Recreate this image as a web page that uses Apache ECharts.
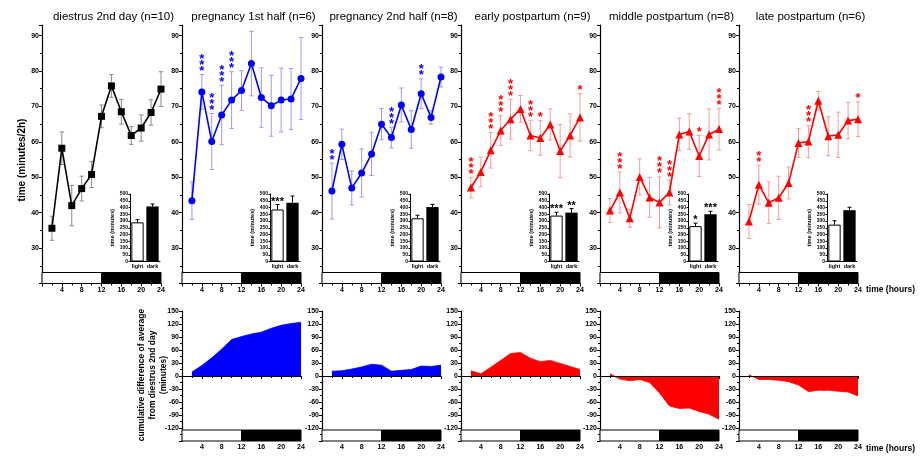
<!DOCTYPE html>
<html>
<head>
<meta charset="utf-8">
<script src="https://cdn.jsdelivr.net/npm/echarts@6/dist/echarts.min.js"></script>
<style>
html,body{margin:0;padding:0;background:#fff}
#chart{width:923px;height:456px}
</style>
</head>
<body>
<div id="chart"></div>
<script>
// ---- data: activity time per 2 h bin (mean, SEM) and significance stars ----
const hours = [2, 4, 6, 8, 10, 12, 14, 16, 18, 20, 22, 24];
const hourTicks = [4, 8, 12, 16, 20, 24];

const diestrusMean = [35.6, 58.2, 42.0, 46.8, 50.8, 67.2, 75.8, 68.5, 61.8, 63.9, 68.3, 74.9];
const diestrusSem  = [3.4, 4.6, 5.7, 3.5, 3.7, 3.2, 3.2, 3.5, 2.5, 3.7, 3.6, 4.9];
const diestrusStars = [0, 0, 0, 0, 0, 0, 0, 0, 0, 0, 0, 0];

const preg1Mean = [43.4, 74.1, 60.1, 67.6, 71.8, 74.5, 82.1, 72.5, 70.2, 71.8, 72.1, 77.9];
const preg1Sem  = [5.3, 4.9, 7.9, 8.4, 8.0, 5.6, 9.1, 8.4, 8.6, 9.0, 8.6, 11.6];
const preg1Stars = [0, 3, 3, 3, 3, 0, 0, 0, 0, 0, 0, 0];

const preg2Mean = [46.1, 59.3, 47.0, 51.2, 56.6, 65.0, 61.2, 70.4, 63.5, 73.6, 66.9, 78.3];
const preg2Sem  = [7.9, 4.3, 4.8, 6.8, 6.1, 4.4, 2.9, 4.8, 5.3, 4.2, 1.9, 2.8];
const preg2Stars = [2, 0, 0, 0, 0, 0, 3, 0, 0, 2, 0, 0];

const earlyMean = [47.1, 51.5, 57.6, 63.2, 66.4, 69.3, 61.8, 61.1, 64.9, 57.4, 61.8, 66.9];
const earlySem  = [2.9, 4.2, 5.0, 4.2, 5.6, 3.8, 4.3, 4.9, 4.4, 7.5, 6.1, 6.7];
const earlyStars = [3, 0, 3, 3, 3, 0, 3, 1, 0, 0, 0, 1];

const middleMean = [40.6, 45.7, 38.4, 50.1, 44.3, 42.9, 45.7, 62.1, 62.9, 56.0, 62.1, 63.6];
const middleSem  = [3.4, 5.8, 2.5, 5.1, 5.6, 7.2, 3.5, 4.6, 5.0, 5.8, 7.2, 5.9];
const middleStars = [0, 3, 0, 0, 0, 3, 3, 0, 0, 1, 0, 3];

const lateMean = [37.5, 47.9, 42.8, 44.2, 48.4, 59.7, 60.1, 71.6, 61.6, 62.0, 66.0, 66.4];
const lateSem  = [4.8, 5.5, 5.9, 6.1, 4.5, 4.1, 4.5, 2.6, 5.5, 6.4, 5.1, 4.9];
const lateStars = [0, 2, 0, 0, 0, 0, 3, 0, 0, 0, 0, 1];

// cumulative difference from diestrus 2nd day (minutes)
const preg1Cum  = [9, 24, 42, 62, 84, 91, 97, 101, 110, 117, 121, 124];
const preg2Cum  = [11, 12, 16, 21, 27, 25, 11, 13, 15, 23, 22, 25];
const earlyCum  = [12, 5, 20, 36, 52, 54, 41, 33, 36, 29, 22, 15];
const middleCum = [5, -7, -11, -8, -15, -39, -69, -75, -74, -82, -88, -100];
const lateCum   = [3, -8, -8, -10, -13, -21, -36, -33, -33, -35, -37, -46];

// light / dark phase totals (minutes), SEM and stars
const phaseNames = ['light', 'dark'];
const diestrusPhase = [290, 408];  const diestrusPhaseSem = [20, 18]; const diestrusPhaseStars = ['', ''];
const preg1Phase    = [385, 435];  const preg1PhaseSem    = [37, 50]; const preg1PhaseStars    = ['***', ''];
const preg2Phase    = [320, 403];  const preg2PhaseSem    = [23, 20]; const preg2PhaseStars    = ['', ''];
const earlyPhase    = [340, 362];  const earlyPhaseSem    = [25, 30]; const earlyPhaseStars    = ['***', '**'];
const middlePhase   = [262, 350];  const middlePhaseSem   = [22, 22]; const middlePhaseStars   = ['*', '***'];
const latePhase     = [273, 380];  const latePhaseSem     = [29, 22]; const latePhaseStars     = ['', ''];

// light (0-12 h) and dark (12-24 h) phase blocks
const ldBlocks = [[0, 12, 0], [12, 24, 1]];

const panelTitles = ['diestrus 2nd day (n=10)', 'pregnancy 1st half (n=6)', 'pregnancy 2nd half (n=8)',
                     'early postpartum (n=9)', 'middle postpartum (n=8)', 'late postpartum (n=6)'];

// ---- layout ----
const panelLefts = [42, 182, 322, 461, 600, 739];
const PANEL_W = 119;
const TOP_Y = 25, TOP_H = 258.5, TOP_MIN = 20, TOP_MAX = 93;
const BOT_Y = 311, BOT_H = 130, BOT_MIN = -150, BOT_MAX = 150;
const INSET_DX = 88, INSET_Y = 194, INSET_W = 30, INSET_H = 67.5;
const LD_H = 11;
const FONT = '"Liberation Sans", Arial, sans-serif';

const panels = [
  {mean: diestrusMean, sem: diestrusSem, stars: diestrusStars, cum: null,
   phase: diestrusPhase, phaseSem: diestrusPhaseSem, phaseStars: diestrusPhaseStars,
   color: '#000000', errColor: '#8a8a8a', symbol: 'rect', symbolSize: 7},
  {mean: preg1Mean, sem: preg1Sem, stars: preg1Stars, cum: preg1Cum,
   phase: preg1Phase, phaseSem: preg1PhaseSem, phaseStars: preg1PhaseStars,
   color: '#0000ff', errColor: '#9a9aff', symbol: 'circle', symbolSize: 7},
  {mean: preg2Mean, sem: preg2Sem, stars: preg2Stars, cum: preg2Cum,
   phase: preg2Phase, phaseSem: preg2PhaseSem, phaseStars: preg2PhaseStars,
   color: '#0000ff', errColor: '#9a9aff', symbol: 'circle', symbolSize: 7},
  {mean: earlyMean, sem: earlySem, stars: earlyStars, cum: earlyCum,
   phase: earlyPhase, phaseSem: earlyPhaseSem, phaseStars: earlyPhaseStars,
   color: '#ff0000', errColor: '#ff9a9a', symbol: 'triangle', symbolSize: 8},
  {mean: middleMean, sem: middleSem, stars: middleStars, cum: middleCum,
   phase: middlePhase, phaseSem: middlePhaseSem, phaseStars: middlePhaseStars,
   color: '#ff0000', errColor: '#ff9a9a', symbol: 'triangle', symbolSize: 8},
  {mean: lateMean, sem: lateSem, stars: lateStars, cum: lateCum,
   phase: latePhase, phaseSem: latePhaseSem, phaseStars: latePhaseStars,
   color: '#ff0000', errColor: '#ff9a9a', symbol: 'triangle', symbolSize: 8}
];

// ---- render helpers ----
function errorBarRender(color, cap, upOnly) {
  return function (params, api) {
    const x = api.value(0), m = api.value(1), s = api.value(2);
    const hi = api.coord([x, m + s]);
    const lo = upOnly ? api.coord([x, m]) : api.coord([x, m - s]);
    const st = {stroke: color, lineWidth: 1};
    const kids = [
      {type: 'line', shape: {x1: hi[0], y1: hi[1], x2: lo[0], y2: lo[1]}, style: st},
      {type: 'line', shape: {x1: hi[0] - cap, y1: hi[1], x2: hi[0] + cap, y2: hi[1]}, style: st}
    ];
    if (!upOnly) kids.push({type: 'line', shape: {x1: lo[0] - cap, y1: lo[1], x2: lo[0] + cap, y2: lo[1]}, style: st});
    return {type: 'group', children: kids};
  };
}

function starStackRender(color) {
  return function (params, api) {
    const n = api.value(2);
    const p = api.coord([api.value(0), api.value(1)]);
    const kids = [];
    for (let i = 0; i < n; i++) {
      kids.push({type: 'text', style: {text: '*', x: p[0], y: p[1] - 3 - i * 6,
        fill: color, font: 'bold 13px ' + FONT, textAlign: 'center', textVerticalAlign: 'middle'}});
    }
    return {type: 'group', children: kids};
  };
}

function ldRender(yBase) {
  return function (params, api) {
    const a = api.coord([api.value(0), yBase]);
    const b = api.coord([api.value(1), yBase]);
    return {type: 'rect', shape: {x: a[0], y: a[1] - LD_H, width: b[0] - a[0], height: LD_H},
      style: {fill: api.value(2) ? '#000' : '#fff', stroke: '#000', lineWidth: 1}};
  };
}

const axisLineBlack = {show: true, lineStyle: {color: '#000', width: 1.2}};
const tickLabel = {color: '#000', fontSize: 7, fontWeight: 'bold', fontFamily: FONT};

const grid = [], xAxis = [], yAxis = [], series = [], title = [];

function hourAxis(gi) {
  return {type: 'value', gridIndex: gi, min: 0, max: 24, interval: 4,
    axisLine: axisLineBlack, splitLine: {show: false},
    axisTick: {show: true, inside: false, length: 3, lineStyle: {color: '#000'}},
    minorTick: {show: true, splitNumber: 2, length: 2, lineStyle: {color: '#000'}},
    axisLabel: Object.assign({margin: 3, formatter: v => (hourTicks.indexOf(v) >= 0 ? String(v) : '')}, tickLabel)};
}

panels.forEach((p, i) => {
  const L = panelLefts[i];
  title.push({text: panelTitles[i], left: L + PANEL_W / 2 + 7, top: 6, textAlign: 'center',
    textStyle: {fontSize: 11.5, fontWeight: 'normal', color: '#000', fontFamily: FONT}});

  // main time course
  const gi = grid.length;
  grid.push({left: L, top: TOP_Y, width: PANEL_W, height: TOP_H});
  xAxis.push(hourAxis(gi));
  yAxis.push({type: 'value', gridIndex: gi, min: TOP_MIN, max: TOP_MAX, interval: 10,
    axisLine: axisLineBlack, splitLine: {show: false},
    axisTick: {show: true, length: 3, lineStyle: {color: '#000'}},
    minorTick: {show: true, splitNumber: 2, length: 2, lineStyle: {color: '#000'}},
    axisLabel: Object.assign({margin: 3, formatter: v => (v >= 30 && v <= 90 && v % 10 === 0 ? String(v) : '')}, tickLabel)});

  series.push({type: 'custom', xAxisIndex: gi, yAxisIndex: gi, renderItem: ldRender(TOP_MIN),
    data: ldBlocks, silent: true, z: 1});
  series.push({type: 'custom', xAxisIndex: gi, yAxisIndex: gi, renderItem: errorBarRender(p.errColor, 2.2, false),
    data: hours.map((h, k) => [h, p.mean[k], p.sem[k]]), silent: true, z: 2});
  series.push({type: 'line', xAxisIndex: gi, yAxisIndex: gi, data: hours.map((h, k) => [h, p.mean[k]]),
    symbol: p.symbol, symbolSize: p.symbolSize, showSymbol: true,
    lineStyle: {color: p.color, width: 1.6}, itemStyle: {color: p.color}, z: 3, animation: false});
  series.push({type: 'custom', xAxisIndex: gi, yAxisIndex: gi, renderItem: starStackRender(p.color),
    data: hours.map((h, k) => [h, p.mean[k] + p.sem[k], p.stars[k]]).filter(d => d[2] > 0), silent: true, z: 4});

  // light/dark inset
  const ii = grid.length;
  grid.push({left: L + INSET_DX, top: INSET_Y, width: INSET_W, height: INSET_H});
  xAxis.push({type: 'category', gridIndex: ii, data: phaseNames, axisLine: {show: true, lineStyle: {color: '#000', width: 1}},
    axisTick: {show: false}, axisLabel: {color: '#000', fontSize: 5.5, fontWeight: 'bold', fontFamily: FONT, margin: 2, interval: 0}});
  yAxis.push({type: 'value', gridIndex: ii, min: 0, max: 500, interval: 50,
    name: 'time (minutes)', nameLocation: 'middle', nameGap: 14, nameRotate: 90,
    nameTextStyle: {color: '#000', fontSize: 5.5, fontWeight: 'bold', fontFamily: FONT},
    axisLine: {show: true, lineStyle: {color: '#000', width: 1}}, splitLine: {show: false},
    axisTick: {show: true, length: 1.5, lineStyle: {color: '#000'}},
    axisLabel: {color: '#000', fontSize: 5, fontWeight: 'bold', fontFamily: FONT, margin: 2}});
  series.push({type: 'bar', xAxisIndex: ii, yAxisIndex: ii, barWidth: '82%', animation: false,
    data: p.phase.map((v, k) => ({value: v, itemStyle: k === 0
      ? {color: '#fff', borderColor: '#000', borderWidth: 1} : {color: '#000'}})), z: 2});
  series.push({type: 'custom', xAxisIndex: ii, yAxisIndex: ii, renderItem: errorBarRender('#000', 2, true),
    data: p.phase.map((v, k) => [k, v, p.phaseSem[k]]), silent: true, z: 3});
  series.push({type: 'custom', xAxisIndex: ii, yAxisIndex: ii, silent: true, z: 4,
    data: p.phase.map((v, k) => [k, v + p.phaseSem[k], k]).filter(d => p.phaseStars[d[2]]),
    renderItem: function (params, api) {
      const pt = api.coord([api.value(0), api.value(1)]);
      return {type: 'text', style: {text: p.phaseStars[api.value(2)], x: pt[0], y: pt[1] - 3,
        fill: '#000', font: 'bold 11px ' + FONT, textAlign: 'center', textVerticalAlign: 'middle'}};
    }});

  // cumulative difference
  if (p.cum) {
    const bi = grid.length;
    grid.push({left: L, top: BOT_Y, width: PANEL_W, height: BOT_H});
    xAxis.push(hourAxis(bi));
    yAxis.push({type: 'value', gridIndex: bi, min: BOT_MIN, max: BOT_MAX, interval: 30,
      axisLine: axisLineBlack, splitLine: {show: false},
      axisTick: {show: true, length: 3, lineStyle: {color: '#000'}},
      minorTick: {show: true, splitNumber: 2, length: 2, lineStyle: {color: '#000'}},
      axisLabel: Object.assign({margin: 3, formatter: v => (v > BOT_MIN ? String(v) : '')}, tickLabel)});
    series.push({type: 'custom', xAxisIndex: bi, yAxisIndex: bi, renderItem: ldRender(BOT_MIN),
      data: ldBlocks, silent: true, z: 1});
    series.push({type: 'line', xAxisIndex: bi, yAxisIndex: bi, data: hours.map((h, k) => [h, p.cum[k]]),
      symbol: 'none', lineStyle: {color: p.color, width: 0.8}, areaStyle: {color: p.color, opacity: 1, origin: 'auto'},
      animation: false, z: 2,
      markLine: {silent: true, symbol: 'none', label: {show: false}, animation: false,
        lineStyle: {color: '#000', width: 1, type: 'solid'}, data: [{yAxis: 0}]}});
  }
});

const option = {
  animation: false,
  backgroundColor: '#fff',
  title: title,
  grid: grid,
  xAxis: xAxis,
  yAxis: yAxis,
  series: series,
  graphic: [
    {type: 'text', x: 22, y: 160, rotation: Math.PI / 2,
      style: {text: 'time (minutes/2h)', font: 'bold 10px ' + FONT, fill: '#000', textAlign: 'center', textVerticalAlign: 'middle'}},
    {type: 'text', x: 153, y: 375, rotation: Math.PI / 2,
      style: {text: 'cumulative difference of average\nfrom diestrus 2nd day\n(minutes)', font: 'bold 8.5px ' + FONT,
        lineHeight: 11, fill: '#000', textAlign: 'center', textVerticalAlign: 'middle'}},
    {type: 'text', x: 866, y: 290,
      style: {text: 'time (hours)', font: 'bold 8.5px ' + FONT, fill: '#000', textAlign: 'left', textVerticalAlign: 'middle'}},
    {type: 'text', x: 866, y: 449,
      style: {text: 'time (hours)', font: 'bold 8.5px ' + FONT, fill: '#000', textAlign: 'left', textVerticalAlign: 'middle'}}
  ]
};

const chart = echarts.init(document.getElementById('chart'), null, {renderer: 'canvas'});
chart.setOption(option);
</script>
</body>
</html>
